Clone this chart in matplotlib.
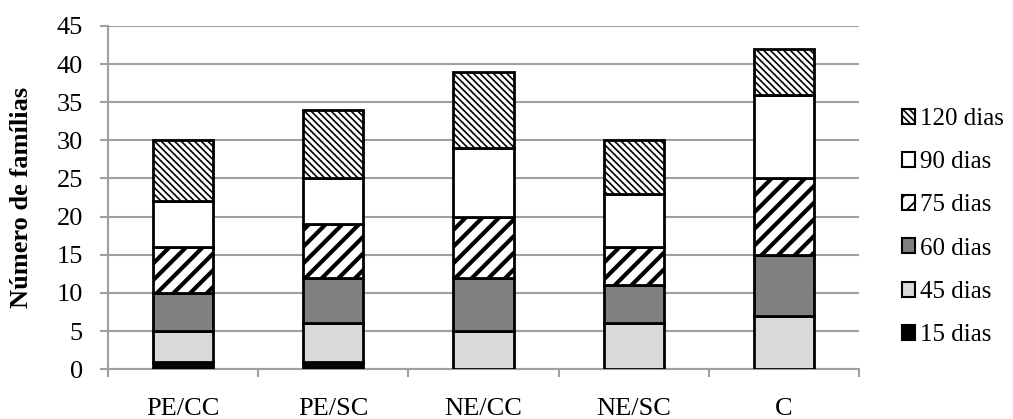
import numpy as np
import matplotlib.pyplot as plt
from matplotlib.patches import Patch

plt.rcParams['font.family'] = ['Liberation Serif', 'DejaVu Serif']

# dados
grupos = ['PE/CC', 'PE/SC', 'NE/CC', 'NE/SC', 'C']
d15 = [1, 1, 0, 0, 0]
d45 = [4, 5, 5, 6, 7]
d60 = [5, 6, 7, 5, 8]
d75 = [6, 7, 8, 5, 10]
d90 = [6, 6, 9, 7, 11]
d120 = [8, 9, 10, 7, 6]

series = [d15, d45, d60, d75, d90, d120]
nomes = ['15 dias', '45 dias', '60 dias', '75 dias', '90 dias', '120 dias']
cores = ['black', '#d9d9d9', '#808080', 'white', 'white', 'white']
hatches = [None, None, None, '//', None, '\\' * 5]
hlw = [1, 1, 1, 3.0, 1, 1.2]

fig = plt.figure(figsize=(10.13, 4.19), dpi=100)
ax = fig.add_axes([0.1066, 0.119, 0.7414, 0.819])

x = np.arange(len(grupos))
base = np.zeros(len(grupos))
handles = []
for vals, nome, cor, h, lw in zip(series, nomes, cores, hatches, hlw):
    plt.rcParams['hatch.linewidth'] = lw
    ax.bar(x, vals, bottom=base, width=0.4, color=cor, edgecolor='black',
           linewidth=2, hatch=h, zorder=3)
    handles.append(Patch(facecolor=cor, edgecolor='black', linewidth=1.5, hatch=h))
    base += np.array(vals)

ax.set_xlim(-0.5, len(grupos) - 0.5)
ax.set_ylim(0, 45)
ax.set_yticks(np.arange(0, 46, 5))
ax.yaxis.grid(True, color='#a0a0a0', linewidth=1.5, zorder=0)
ax.set_axisbelow(True)

ax.set_xticks(x)
ax.set_xticklabels(grupos, fontsize=19)
ax.set_xticks(np.arange(-0.5, len(grupos), 1), minor=True)
ax.tick_params(axis='x', which='major', length=0, pad=21)
ax.tick_params(axis='x', which='minor', length=6, color='#a0a0a0', width=1.5)
ax.tick_params(axis='y', length=6, color='#a0a0a0', width=1.5, labelsize=19, pad=12)

for s in ['top', 'right']:
    ax.spines[s].set_visible(False)
for s in ['left', 'bottom']:
    ax.spines[s].set_color('#a0a0a0')
    ax.spines[s].set_linewidth(1.5)

ax.set_ylabel('Número de famílias', fontsize=19, fontweight='bold')
ax.yaxis.set_label_coords(-0.1, 0.5)

leg = fig.legend(handles[::-1], nomes[::-1], loc='center left',
                 bbox_to_anchor=(0.89, 0.458), frameon=False, fontsize=18,
                 handlelength=0.55, handleheight=0.55, handletextpad=0.2,
                 labelspacing=0.85, borderpad=0, borderaxespad=0)

fig.savefig('out.png', dpi=100)
